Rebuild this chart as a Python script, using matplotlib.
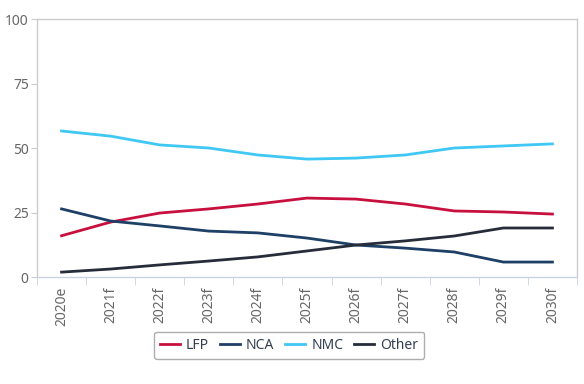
import matplotlib
matplotlib.use('Agg')
import matplotlib.pyplot as plt
import numpy as np

plt.rcParams['font.family'] = ['Noto Sans', 'DejaVu Sans']

# categories
years = ['2020e', '2021f', '2022f', '2023f', '2024f', '2025f',
         '2026f', '2027f', '2028f', '2029f', '2030f']

# series values (share, %)
lfp = [16.0, 21.3, 24.8, 26.4, 28.3, 30.6, 30.2, 28.3, 25.6, 25.2, 24.4]
nca = [26.4, 21.7, 19.8, 17.8, 17.1, 15.1, 12.4, 11.2, 9.7, 5.8, 5.8]
nmc = [56.6, 54.6, 51.2, 50.0, 47.3, 45.7, 46.1, 47.3, 50.0, 50.8, 51.6]
other = [1.9, 3.1, 4.7, 6.2, 7.8, 10.1, 12.4, 14.0, 15.9, 19.0, 19.0]

fig = plt.figure(figsize=(5.84, 3.84), dpi=100)
ax = fig.add_axes([0.0634, 0.2786, 0.9246, 0.6719])

x = np.arange(len(years))
ax.plot(x, lfp, color='#c8103e', lw=2, label='LFP')
ax.plot(x, nca, color='#1e3f66', lw=2, label='NCA')
ax.plot(x, nmc, color='#40c8f4', lw=2, label='NMC')
ax.plot(x, other, color='#262c3a', lw=2, label='Other')

ax.set_xlim(-0.5, len(years) - 0.5)
ax.set_ylim(0, 100)
ax.set_yticks([0, 25, 50, 75, 100])
ax.set_xticks(x)
ax.set_xticklabels(years, rotation=90)
ax.set_xticks(np.arange(len(years) + 1) - 0.5, minor=True)

for s in ax.spines.values():
    s.set_color('#cccccc')
    s.set_linewidth(1)
ax.spines['bottom'].set_color('#c7d3e0')
ax.tick_params(axis='x', which='major', length=0, pad=7, labelsize=10, colors='#666666')
ax.tick_params(axis='x', which='minor', length=6, color='#c7d3e0')
ax.tick_params(axis='y', length=4, color='#cccccc', labelsize=10, colors='#666666', pad=2)

leg = ax.legend(loc='upper center', bbox_to_anchor=(0.467, -0.185), ncol=4, frameon=True,
                fontsize=10, handlelength=1.4, handletextpad=0.45, columnspacing=0.8,
                borderpad=0.45, fancybox=True)
leg.get_frame().set_edgecolor('#999999')
leg.get_frame().set_linewidth(1)
for t in leg.get_texts():
    t.set_color('#333f50')

fig.savefig('out.png', dpi=100)
